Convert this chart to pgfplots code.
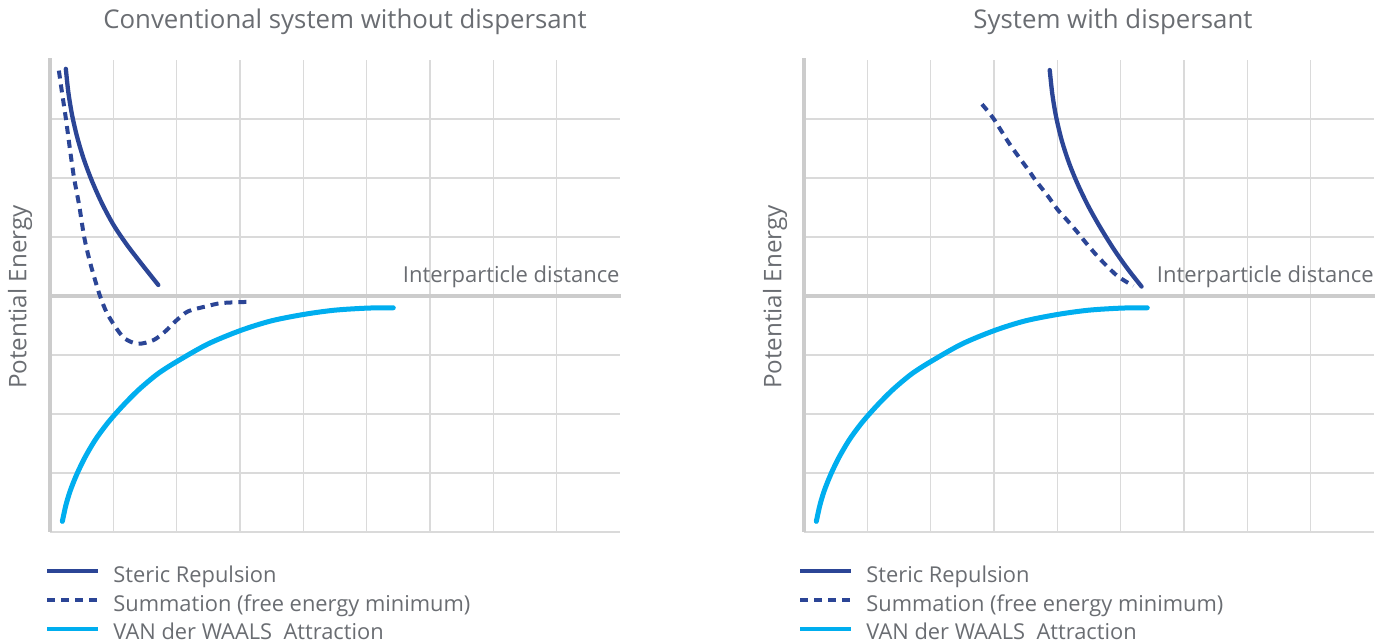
\documentclass[border=0pt]{standalone}
\usepackage{fontspec}
\setmainfont{Open Sans}
\usepackage{pgfplots}
\pgfplotsset{compat=1.18}

\definecolor{cSteric}{RGB}{43,69,150}
\definecolor{cVdw}{RGB}{0,174,239}
\definecolor{gridgray}{RGB}{218,218,218}
\definecolor{axisgray}{RGB}{204,204,204}
\definecolor{txt}{RGB}{106,109,114}

\pgfplotsset{
  panel/.style={
    scale only axis, width=285pt, height=236pt,
    xmin=0, xmax=9, ymin=-4, ymax=4,
    xtick={1,...,8}, ytick={-4,...,3},
    xticklabels={}, yticklabels={},
    major tick length=0pt,
    grid=major,
    major grid style={gridgray, line width=0.8pt},
    axis line style={draw=none},
    clip=false,
  },
  steric/.style={cSteric, line width=2.15pt, line cap=round, smooth, no markers},
  summ/.style={cSteric, line width=2pt, dash pattern=on 4pt off 3pt, smooth, no markers},
  vdw/.style={cVdw, line width=2.5pt, line cap=round, smooth, no markers},
}

% van der Waals attraction, same in both panels
\pgfplotstableread{
x      y
0.195 -3.82
0.25  -3.55
0.32  -3.30
0.42  -3.03
0.55  -2.74
0.72  -2.43
0.92  -2.14
1.15  -1.86
1.40  -1.59
1.70  -1.32
2.02  -1.10
2.50  -0.81
3.02  -0.58
3.50  -0.42
4.02  -0.31
4.50  -0.24
5.02  -0.205
5.42  -0.20
}\vdwdata

\begin{document}
\begin{tikzpicture}
\useasboundingbox (0,0) rectangle (694pt,321pt);

% ---- left panel ----
\begin{axis}[panel, at={(25pt,55pt)}, anchor=south west]
  \draw[axisgray, line width=2.2pt] (axis cs:0,-4) -- (axis cs:0,4.03);
  \draw[axisgray, line width=2.2pt] (axis cs:0,0) -- (axis cs:9.02,0);
  \addplot[steric] coordinates {
    (0.25,3.85) (0.29,3.45) (0.35,3.06) (0.43,2.69) (0.53,2.33) (0.66,1.955)
    (0.82,1.57) (1.00,1.21) (1.21,0.874) (1.45,0.538) (1.71,0.187)
  };
  \addplot[summ] coordinates {
    (0.14,3.82) (0.18,3.52) (0.25,3.01) (0.32,2.45) (0.38,2.00) (0.46,1.54)
    (0.54,1.00) (0.63,0.58) (0.72,0.24) (0.79,0.00) (0.89,-0.27) (1.03,-0.52)
    (1.18,-0.72) (1.39,-0.81) (1.63,-0.75) (1.82,-0.60) (2.00,-0.41)
    (2.18,-0.26) (2.45,-0.18) (2.71,-0.12) (3.13,-0.10)
  };
  \addplot[vdw] table {\vdwdata};
  \node[anchor=base east, inner sep=0pt, text=txt, font=\fontsize{11}{13}\selectfont]
    at (axis cs:9,0) [yshift=6.5pt] {Interparticle distance};
\end{axis}

% ---- right panel ----
\begin{axis}[panel, at={(402pt,55pt)}, anchor=south west]
  \draw[axisgray, line width=2.2pt] (axis cs:0,-4) -- (axis cs:0,4.03);
  \draw[axisgray, line width=2.2pt] (axis cs:0,0) -- (axis cs:9.02,0);
  \addplot[steric] coordinates {
    (3.88,3.83) (3.92,3.43) (3.98,3.04) (4.07,2.635) (4.19,2.24) (4.33,1.875)
    (4.50,1.50) (4.69,1.14) (4.90,0.78) (5.11,0.46) (5.33,0.16)
  };
  \addplot[summ] coordinates {
    (2.81,3.25) (2.99,3.01) (3.25,2.57) (3.54,2.14) (3.67,1.94) (3.84,1.71)
    (4.00,1.47) (4.15,1.29) (4.31,1.09) (4.46,0.89) (4.62,0.69) (4.78,0.51)
    (4.96,0.33) (5.20,0.17)
  };
  \addplot[vdw] table {\vdwdata};
  \node[anchor=base east, inner sep=0pt, text=txt, font=\fontsize{11}{13}\selectfont]
    at (axis cs:9,0) [yshift=6.5pt] {Interparticle distance};
\end{axis}

% titles and y labels
\node[text=txt, font=\fontsize{12.9}{15}\selectfont] at (172.5pt,310pt) {Conventional system without dispersant};
\node[text=txt, font=\fontsize{12.9}{15}\selectfont] at (556.5pt,310pt) {System with dispersant};
\node[text=txt, rotate=90, font=\fontsize{12.1}{14}\selectfont] at (10pt,172.5pt) {Potential Energy};
\node[text=txt, rotate=90, font=\fontsize{12.1}{14}\selectfont] at (387.5pt,172.5pt) {Potential Energy};

% legends
\foreach \dx in {0pt,376.5pt}{
  \draw[cSteric, line width=2pt] (23.5pt+\dx,35.5pt) -- (49pt+\dx,35.5pt);
  \draw[cSteric, line width=2pt, dash pattern=on 4pt off 3pt] (23.5pt+\dx,21pt) -- (49pt+\dx,21pt);
  \draw[cVdw, line width=2pt] (23.5pt+\dx,6.5pt) -- (49pt+\dx,6.5pt);
  \node[anchor=base west, inner sep=0pt, text=txt, font=\fontsize{10.93}{13}\selectfont] at (56.5pt+\dx,29.5pt) {Steric Repulsion};
  \node[anchor=base west, inner sep=0pt, text=txt, font=\fontsize{10.93}{13}\selectfont] at (56.5pt+\dx,15pt) {Summation (free energy minimum)};
  \node[anchor=base west, inner sep=0pt, text=txt, font=\fontsize{10.93}{13}\selectfont] at (56.5pt+\dx,1pt) {VAN der WAALS~ Attraction};
}
\end{tikzpicture}
\end{document}
